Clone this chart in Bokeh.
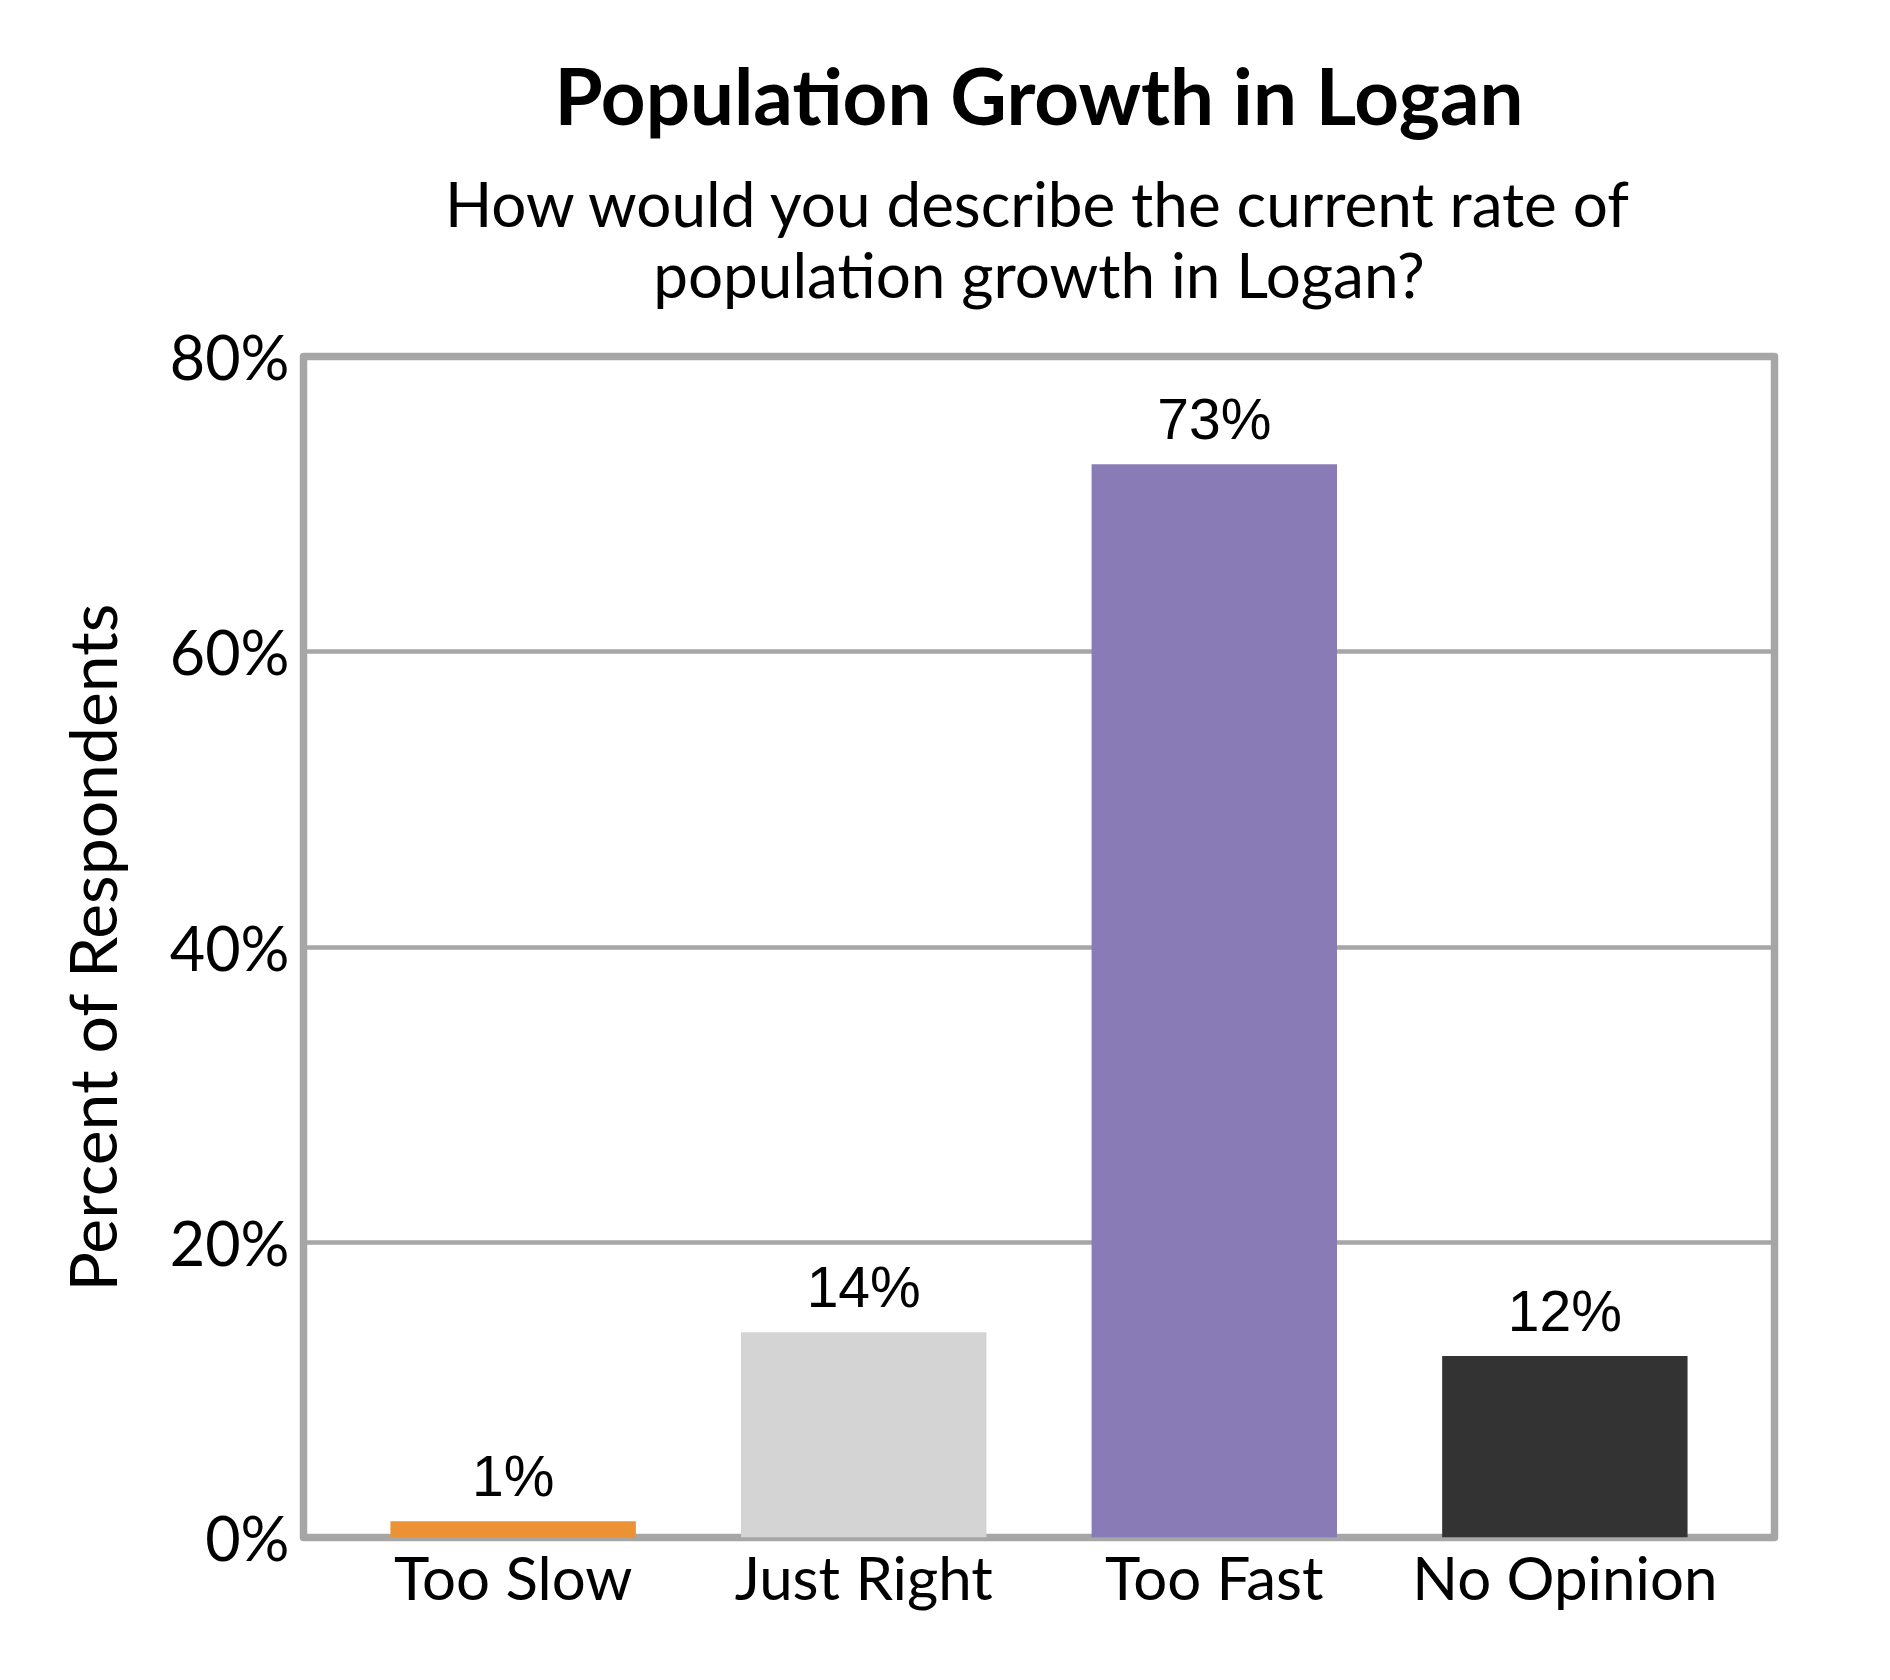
from bokeh.plotting import figure
from bokeh.models import FactorRange, Range1d, FixedTicker, LabelSet, ColumnDataSource, Title
from bokeh.core.properties import value
from bokeh.embed import file_html
from bokeh.resources import INLINE

# ---- data ----
categories = ["Too Slow", "Just Right", "Too Fast", "No Opinion"]
percent_values = [1.1, 13.9, 72.7, 12.3]
bar_colors = ["#EB9234", "#D4D4D4", "#897BB5", "#333333"]
y_ticks = [0, 20, 40, 60, 80]
y_tick_labels = ["0%", "20%", "40%", "60%", "80%"]
title_text = "Population Growth in Logan"
subtitle_lines = ["How would you describe the current rate of",
                  "population growth in Logan?"]
y_axis_title = "Percent of Respondents"

value_labels = [f"{round(v)}%" for v in percent_values]
source = ColumnDataSource(dict(cat=categories, val=percent_values,
                               color=bar_colors, label=value_labels))

GRID = "#A6A6A6"
FONT = "Lato"

p = figure(
    x_range=FactorRange(factors=categories, range_padding=0.098,
                        range_padding_units="absolute"),
    y_range=Range1d(0, 80),
    frame_width=1471, frame_height=1181,
    min_border_left=303, min_border_top=356,
    min_border_right=93, min_border_bottom=120,
    output_backend="svg", toolbar_location=None,
    background_fill_color="white", border_fill_color="white",
)

p.vbar(x="cat", top="val", width=0.7, fill_color="color", line_color=None,
       source=source)

labels = LabelSet(x="cat", y="val", text="label", source=source,
                  y_offset=25, text_align="center", text_baseline="alphabetic",
                  text_font=value("Liberation Sans"), text_font_size="57px",
                  text_color="black")
p.add_layout(labels)

# grid & frame
p.xgrid.visible = False
p.ygrid.ticker = FixedTicker(ticks=y_ticks)
p.ygrid.grid_line_color = GRID
p.ygrid.grid_line_width = 4.5
p.outline_line_color = GRID
p.outline_line_width = 7.5
p.outline_line_join = "round"

# y axis
p.yaxis.ticker = FixedTicker(ticks=y_ticks)
p.yaxis.major_label_overrides = dict(zip(y_ticks, y_tick_labels))
p.yaxis.axis_line_color = None
p.yaxis.major_tick_line_color = None
p.yaxis.minor_tick_line_color = None
p.yaxis.major_tick_out = 0
p.yaxis.major_tick_in = 0
p.yaxis.major_label_standoff = 14
p.yaxis.major_label_text_font = FONT
p.yaxis.major_label_text_font_size = "61px"
p.yaxis.major_label_text_color = "black"
p.yaxis.axis_label = y_axis_title
p.yaxis.axis_label_text_font = FONT
p.yaxis.axis_label_text_font_style = "normal"
p.yaxis.axis_label_text_font_size = "66px"
p.yaxis.axis_label_text_color = "black"
p.yaxis.axis_label_standoff = 36

# x axis
p.xaxis.axis_line_color = None
p.xaxis.major_tick_line_color = None
p.xaxis.major_tick_out = 0
p.xaxis.major_tick_in = 0
p.xaxis.major_label_standoff = 3
p.xaxis.major_label_text_font = FONT
p.xaxis.major_label_text_font_size = "60px"
p.xaxis.major_label_text_color = "black"

# heading panels, innermost first: gap, subtitle line 2, subtitle line 1, title
p.add_layout(Title(text=" ", align="center", standoff=42,
                   text_font=FONT, text_font_size="2px"), "above")
p.add_layout(Title(text=subtitle_lines[1], align="center", standoff=0,
                   text_font=FONT, text_font_style="normal",
                   text_font_size="62px", text_color="black"), "above")
p.add_layout(Title(text=subtitle_lines[0], align="center", standoff=-11,
                   text_font=FONT, text_font_style="normal",
                   text_font_size="62px", text_color="black"), "above")
p.add_layout(Title(text=title_text, align="center", standoff=55,
                   text_font=FONT, text_font_style="bold",
                   text_font_size="78px", text_color="black"), "above")

open("out.html", "w").write(file_html(p, INLINE))
